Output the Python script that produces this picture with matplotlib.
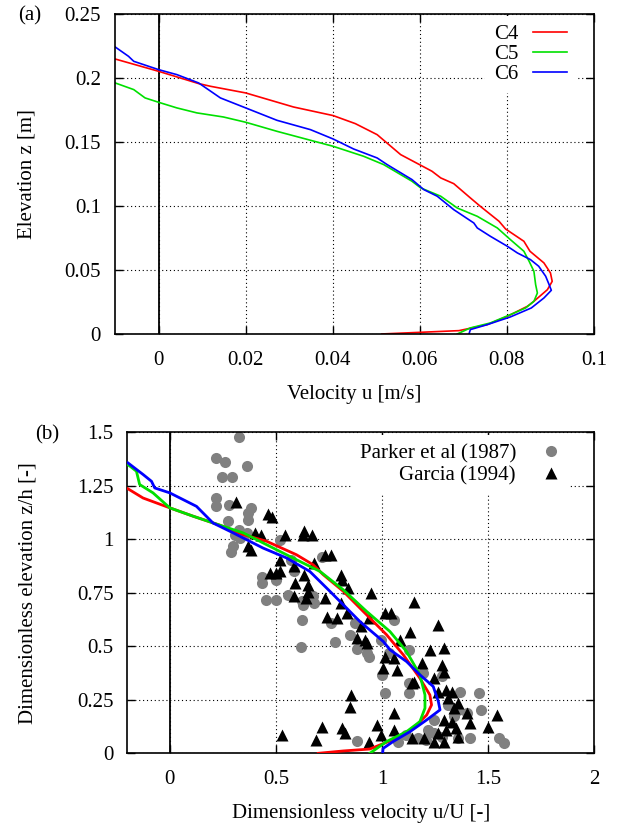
import matplotlib
matplotlib.use("Agg")
import matplotlib.pyplot as plt
import numpy as np

plt.rcParams['font.family'] = ['Liberation Serif', 'DejaVu Serif']
plt.rcParams['mathtext.fontset'] = 'stix'

# ---------------- Panel (a) data ----------------
c4_u = [-0.00996, 0.0, 0.0092, 0.0119, 0.02, 0.031, 0.0401, 0.0452, 0.0502, 0.0556, 0.0602, 0.0628,
        0.0648, 0.0678, 0.0716, 0.0739, 0.0782, 0.0797, 0.0839, 0.0853, 0.0885, 0.0900, 0.0904,
        0.0893, 0.0862, 0.0847, 0.0801, 0.0755, 0.0690, 0.0602, 0.0513]
c4_z = [0.2148, 0.2052, 0.1956, 0.1935, 0.1883, 0.1773, 0.1706, 0.1643, 0.1557, 0.1401, 0.1318, 0.1271,
        0.1219, 0.1174, 0.1063, 0.0997, 0.0880, 0.0820, 0.0724, 0.0646, 0.0555, 0.0477, 0.0411,
        0.0346, 0.0255, 0.0216, 0.0138, 0.0073, 0.0026, 0.0013, 0.0]

c5_u = [-0.00996, -0.0057, -0.0031, 0.0, 0.0042, 0.0088, 0.0149, 0.02, 0.0272, 0.0349, 0.0401, 0.0471,
        0.0517, 0.0582, 0.0602, 0.0648, 0.0686, 0.0732, 0.0778, 0.0808, 0.0839, 0.0851, 0.0862,
        0.0866, 0.0870, 0.0862, 0.0843, 0.0808, 0.0762, 0.0716, 0.0686]
c5_z = [0.1961, 0.1909, 0.1844, 0.1810, 0.1766, 0.1727, 0.1695, 0.1654, 0.1583, 0.1513, 0.1466, 0.1388,
        0.1323, 0.1193, 0.1141, 0.1076, 0.0984, 0.0919, 0.0828, 0.0737, 0.0646, 0.0568, 0.0490,
        0.0385, 0.0320, 0.0255, 0.0203, 0.0151, 0.0086, 0.0047, 0.0]

c6_u = [-0.00996, -0.0069, -0.0057, 0.0, 0.0042, 0.0092, 0.0142, 0.02, 0.0272, 0.0349, 0.0401, 0.0448,
        0.0502, 0.0525, 0.0582, 0.0609, 0.0640, 0.0678, 0.0724, 0.0732, 0.0762, 0.0801, 0.0824,
        0.0854, 0.0873, 0.0889, 0.0897, 0.0902, 0.0885, 0.0856, 0.0808, 0.0755, 0.0716, 0.0713]
c6_z = [0.2242, 0.2169, 0.2130, 0.2065, 0.2026, 0.1961, 0.1844, 0.1766, 0.1669, 0.1596, 0.1523, 0.1445,
        0.1375, 0.1323, 0.1206, 0.1128, 0.1076, 0.0971, 0.0867, 0.0828, 0.0763, 0.0685, 0.0633,
        0.0581, 0.0529, 0.0451, 0.0385, 0.0341, 0.0281, 0.0203, 0.0133, 0.0073, 0.0034, 0.0]

# ---------------- Panel (b) data ----------------
b4_u = [-0.197, -0.126, 0.0, 0.110, 0.236, 0.346, 0.456, 0.597, 0.676, 0.723, 0.818, 0.912, 1.022,
        1.101, 1.179, 1.226, 1.234, 1.211, 1.148, 1.069, 0.943, 0.818, 0.700]
b4_z = [1.236, 1.193, 1.147, 1.108, 1.066, 1.022, 0.991, 0.928, 0.881, 0.835, 0.757, 0.663, 0.554,
        0.460, 0.351, 0.273, 0.226, 0.179, 0.117, 0.070, 0.020, 0.011, 0.0]

b5_u = [-0.197, -0.157, -0.142, -0.079, 0.0, 0.110, 0.236, 0.346, 0.456, 0.566, 0.708, 0.818, 0.928,
        1.038, 1.116, 1.179, 1.203, 1.203, 1.179, 1.116, 1.022, 0.943]
b5_z = [1.349, 1.318, 1.256, 1.217, 1.147, 1.108, 1.066, 1.030, 0.975, 0.920, 0.850, 0.764, 0.663,
        0.569, 0.476, 0.367, 0.273, 0.211, 0.148, 0.101, 0.055, 0.0]

b6_u = [-0.197, -0.126, -0.086, -0.071, 0.0, 0.126, 0.204, 0.299, 0.440, 0.550, 0.660, 0.755, 0.896,
        1.006, 1.038, 1.116, 1.179, 1.242, 1.266, 1.274, 1.211, 1.132, 1.053, 1.006, 1.003]
b6_z = [1.357, 1.303, 1.271, 1.240, 1.217, 1.154, 1.076, 1.030, 0.959, 0.913, 0.850, 0.757, 0.616,
        0.523, 0.484, 0.429, 0.367, 0.312, 0.242, 0.203, 0.156, 0.101, 0.055, 0.023, 0.0]

parker_u = [0.325, 0.219, 0.260, 0.362, 0.245, 0.294, 0.219, 0.219, 0.279, 0.381, 0.368, 0.368, 0.275,
            0.325, 0.307, 0.362, 0.331, 0.297, 0.288, 0.520, 0.437, 0.437, 0.502, 0.502, 0.586, 0.572,
            0.716, 0.455, 0.502, 0.558, 0.623, 0.628, 0.678, 0.673, 0.623, 0.619, 0.777, 0.762, 0.851,
            0.874, 0.883, 0.929, 0.939, 0.994, 1.059, 1.032, 1.000, 1.013, 1.130, 1.130, 1.126, 1.195,
            1.283, 1.366, 1.459, 1.468, 1.403, 1.357, 1.338, 1.310, 1.245, 1.245, 1.217, 1.171, 1.115,
            1.078, 1.283, 1.357, 1.413, 1.552, 1.576, 0.883, 1.208]
parker_z = [1.478, 1.380, 1.360, 1.341, 1.291, 1.291, 1.193, 1.157, 1.162, 1.146, 1.123, 1.092, 1.084,
            1.045, 1.021, 1.029, 1.006, 0.967, 0.939, 0.998, 0.826, 0.795, 0.826, 0.811, 0.850, 0.904,
            0.917, 0.717, 0.717, 0.741, 0.710, 0.694, 0.702, 0.733, 0.624, 0.499, 0.518, 0.608, 0.554,
            0.608, 0.487, 0.468, 0.452, 0.530, 0.624, 0.468, 0.366, 0.281, 0.483, 0.327, 0.281, 0.374,
            0.359, 0.288, 0.281, 0.203, 0.187, 0.203, 0.172, 0.226, 0.156, 0.094, 0.109, 0.070, 0.086,
            0.055, 0.078, 0.070, 0.070, 0.070, 0.050, 0.059, 0.062]

garcia_u = [0.310, 0.465, 0.483, 0.400, 0.428, 0.368, 0.381, 0.543, 0.632, 0.628, 0.669, 0.520, 0.586,
            0.734, 0.762, 0.678, 0.474, 0.502, 0.520, 0.632, 0.591, 0.651, 0.586, 0.641, 0.651, 0.809,
            0.814, 0.840, 0.734, 0.809, 0.948, 1.152, 0.743, 0.790, 0.836, 1.013, 1.041, 0.939, 0.902,
            1.264, 1.134, 0.883, 0.920, 0.929, 1.087, 1.227, 1.292, 1.013, 1.059, 1.190, 1.004, 1.069,
            1.283, 1.292, 1.245, 1.152, 1.143, 1.264, 1.301, 1.329, 1.310, 0.855, 0.851, 1.357, 1.338,
            1.403, 1.543, 1.059, 1.292, 1.329, 1.413, 1.500, 0.976, 1.059, 1.301, 1.348, 0.716, 0.814,
            0.827, 0.994, 0.530, 0.688, 1.143, 1.199, 1.245, 1.292, 1.357, 1.264, 0.939]
garcia_z = [1.173, 1.120, 1.104, 1.029, 1.021, 0.970, 0.948, 1.021, 1.037, 1.021, 1.021, 0.904, 0.873,
            0.928, 0.928, 0.889, 0.842, 0.842, 0.850, 0.834, 0.795, 0.787, 0.733, 0.725, 0.756, 0.834,
            0.811, 0.772, 0.725, 0.702, 0.748, 0.709, 0.639, 0.632, 0.655, 0.655, 0.655, 0.632, 0.593,
            0.600, 0.569, 0.538, 0.530, 0.515, 0.530, 0.483, 0.491, 0.452, 0.444, 0.421, 0.398, 0.390,
            0.413, 0.382, 0.351, 0.335, 0.327, 0.288, 0.296, 0.288, 0.257, 0.273, 0.218, 0.234, 0.211,
            0.187, 0.179, 0.187, 0.156, 0.148, 0.140, 0.125, 0.133, 0.109, 0.109, 0.117, 0.125, 0.117,
            0.094, 0.086, 0.086, 0.062, 0.070, 0.070, 0.055, 0.055, 0.078, 0.094, 0.055]

a_xticks = [0, 0.02, 0.04, 0.06, 0.08, 0.1]
a_xticklabels = ['0', '0.02', '0.04', '0.06', '0.08', '0.1']
a_yticks = [0, 0.05, 0.1, 0.15, 0.2, 0.25]
a_yticklabels = ['0', '0.05', '0.1', '0.15', '0.2', '0.25']
b_xticks = [0, 0.5, 1, 1.5, 2]
b_xticklabels = ['0', '0.5', '1', '1.5', '2']
b_yticks = [0, 0.25, 0.5, 0.75, 1, 1.25, 1.5]
b_yticklabels = ['0', '0.25', '0.5', '0.75', '1', '1.25', '1.5']

RED = '#ff0000'
GREEN = '#00e000'
BLUE = '#0000ff'
FS = 15

fig = plt.figure(figsize=(6.19, 8.25), dpi=100)
ax1 = fig.add_axes([0.1858, 0.5952, 0.7738, 0.3879])
ax2 = fig.add_axes([0.2057, 0.0869, 0.7540, 0.3891])


def style(ax):
    ax.grid(True, color='black', linestyle=(0, (1, 2.5)), linewidth=0.8)
    ax.set_axisbelow(True)
    ax.tick_params(direction='in', top=True, right=True, length=6, width=1,
                   labelsize=FS, pad=10)
    ax.tick_params(axis='x', pad=12)
    for s in ax.spines.values():
        s.set_linewidth(1.2)


def white_legend(leg):
    fr = leg.get_frame()
    fr.set_edgecolor('none')
    fr.set_facecolor('white')
    fr.set_alpha(1.0)


lw = 1.2
ax1.axvline(0, color='black', lw=1.3, zorder=1.5)
ax1.plot(c4_u, c4_z, color=RED, lw=lw, label='C4')
ax1.plot(c5_u, c5_z, color=GREEN, lw=lw, label='C5')
ax1.plot(c6_u, c6_z, color=BLUE, lw=lw, label='C6')
ax1.set_xlim(-0.01, 0.1)
ax1.set_ylim(0, 0.25)
ax1.set_xticks(a_xticks)
ax1.set_xticklabels(a_xticklabels)
ax1.set_yticks(a_yticks)
ax1.set_yticklabels(a_yticklabels)
style(ax1)
ax1.set_xlabel('Velocity u [m/s]', fontsize=FS, labelpad=11)
ax1.set_ylabel('Elevation z [m]', fontsize=FS)
ax1.yaxis.set_label_coords(-0.163, 0.5)
leg1 = ax1.legend(loc='upper right', markerfirst=False, fontsize=FS, frameon=True,
                  handlelength=1.65, handletextpad=0.72, labelspacing=0.02,
                  borderaxespad=0.3, bbox_to_anchor=(0.975, 1.012))
white_legend(leg1)
fig.text(0.029, 0.981, '(a)', fontsize=FS, va='center', ha='left')

ax2.axvline(0, color='black', lw=1.3, zorder=1.5)
ax2.plot(parker_u, parker_z, 'o', color='#808080', ms=8, mec='none', label='Parker et al (1987)',
         zorder=2)
ax2.plot(garcia_u, garcia_z, '^', color='black', ms=8, mec='none', label='Garcia (1994)', zorder=2.1)
ax2.plot(b4_u, b4_z, color=RED, lw=2.0, zorder=3)
ax2.plot(b5_u, b5_z, color=GREEN, lw=2.0, zorder=3.1)
ax2.plot(b6_u, b6_z, color=BLUE, lw=2.0, zorder=3.2)
ax2.set_xlim(-0.2, 2.0)
ax2.set_ylim(0, 1.5)
ax2.set_xticks(b_xticks)
ax2.set_xticklabels(b_xticklabels)
ax2.set_yticks(b_yticks)
ax2.set_yticklabels(b_yticklabels)
style(ax2)
ax2.set_xlabel('Dimensionless velocity u/U [-]', fontsize=FS, labelpad=11)
ax2.set_ylabel('Dimensionless elevation z/h [-]', fontsize=FS)
ax2.yaxis.set_label_coords(-0.193, 0.5)
leg2 = ax2.legend(loc='upper right', markerfirst=False, fontsize=FS, frameon=True,
                  handlelength=1.0, handletextpad=1.2, labelspacing=0.12,
                  borderaxespad=0.3, bbox_to_anchor=(0.962, 1.01))
white_legend(leg2)
fig.text(0.0565, 0.4727, '(b)', fontsize=FS, va='center', ha='left')

fig.savefig('out.png', dpi=100)
